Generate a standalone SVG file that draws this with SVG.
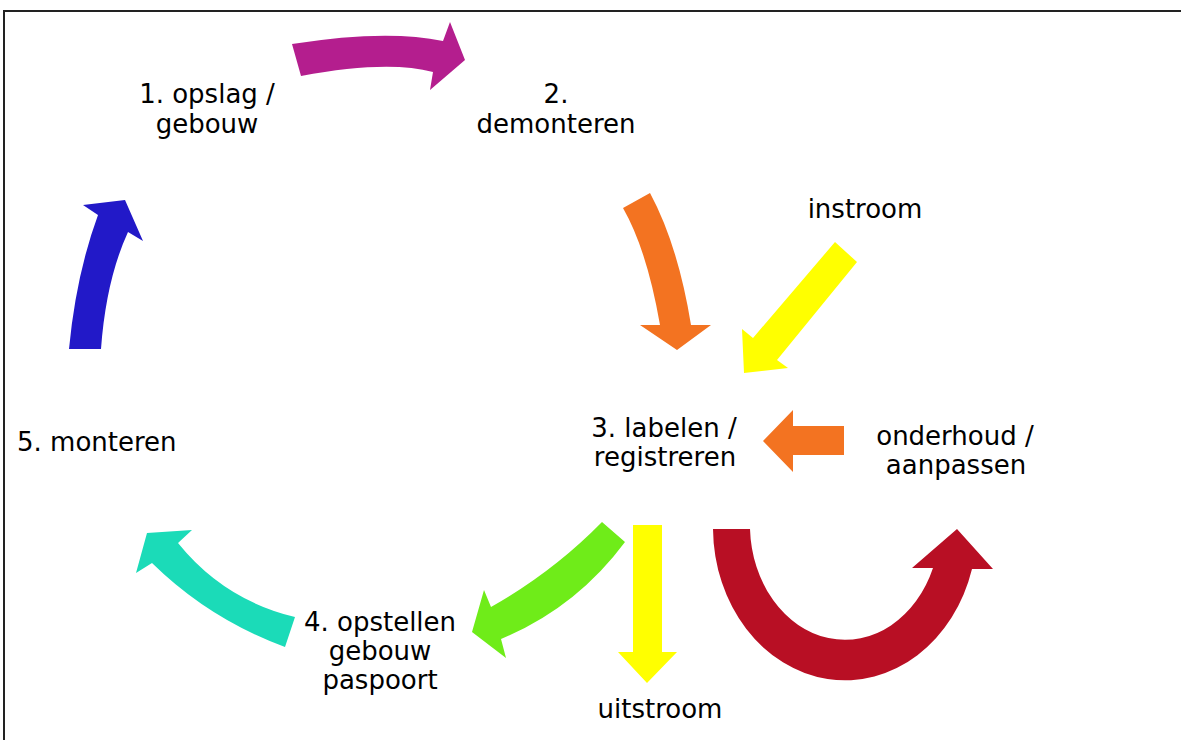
<svg xmlns="http://www.w3.org/2000/svg" width="1181" height="740" viewBox="0 0 1181 740">
<style>
  text { font-family: "DejaVu Sans", Verdana, sans-serif; font-size: 26px; fill: #000; }
  .c { text-anchor: middle; }
</style>
<rect x="0" y="0" width="1181" height="740" fill="#fff"/>
<path d="M4,760 L4,11 L1200,11" fill="none" stroke="#222" stroke-width="2"/>
<g id="connectors">
  <path id="a12" fill="#B41E8E" d="M292,44 Q386,29 443,41 L450,22 L465,60 L430,90 L433,72 Q387,60 301,76 Z"/>
  <path id="a23" fill="#F37321" d="M623,208 L650,193 Q678,245 691,325 L711,325 L677,350 L640,325 L660,325 Q647,250 623,208 Z"/>
  <path id="ain" fill="#FFFF00" d="M835,242 L857,262 L777,360 L788,368 L744,373 L742,329 L753,338 Z"/>
  <path id="aon" fill="#F37321" d="M844,426 L793,426 L793,410 L763,441 L793,472 L793,455 L844,455 Z"/>
  <path id="a34" fill="#6FEC19" d="M602,522 L625,542 Q576,608 501,639 L506,658 L472,632 L484,590 L491,607 Q553,572 602,522 Z"/>
  <path id="auit" fill="#FFFF00" d="M633,525 L662,525 L662,652 L677,652 L647,683 L618,652 L633,652 Z"/>
  <path id="aloop" fill="#B80F24" d="M713,529 A132,153 0 0 0 972,569 L993,569 L957,529 L912,568 L933,568 A95,115 0 0 1 750,529 Z"/>
  <path id="a45" fill="#1BDBB8" d="M295,617 Q224,600 178,543 L192,530 L147,533 L136,573 L152,563 Q209,619 285,647 Z"/>
  <path id="a51" fill="#2219C8" d="M69,349 Q76,275 98,215 L83,205 L125,200 L143,241 L128,232 Q106,280 101,349 Z"/>
</g>
<g id="n1"><text class="c" x="207" y="103">1. opslag /</text><text class="c" x="207" y="133">gebouw</text></g>
<g id="n2"><text class="c" x="556" y="103">2.</text><text class="c" x="556" y="133">demonteren</text></g>
<g id="nin"><text class="c" x="865" y="218">instroom</text></g>
<g id="n3"><text class="c" x="664" y="437">3. labelen /</text><text class="c" x="665" y="466">registreren</text></g>
<g id="non"><text class="c" x="955" y="445">onderhoud /</text><text class="c" x="956" y="474">aanpassen</text></g>
<g id="n5"><text x="17" y="451">5. monteren</text></g>
<g id="n4"><text class="c" x="380" y="631">4. opstellen</text><text class="c" x="380" y="660">gebouw</text><text class="c" x="380" y="689">paspoort</text></g>
<g id="nuit"><text class="c" x="660" y="718">uitstroom</text></g>
</svg>
